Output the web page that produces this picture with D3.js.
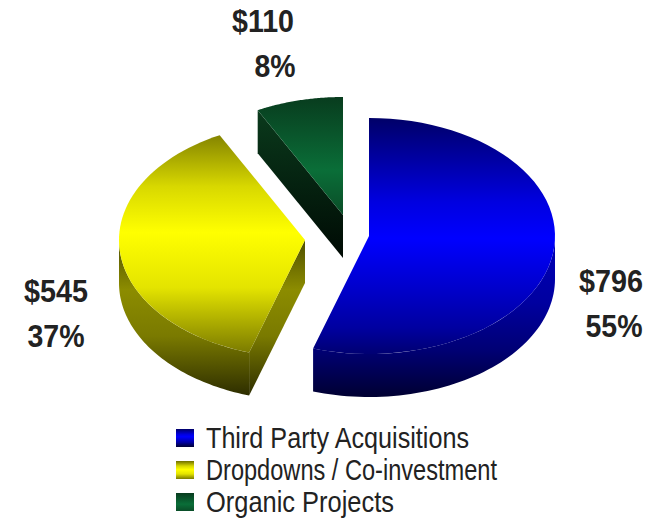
<!DOCTYPE html>
<html>
<head>
<meta charset="utf-8">
<script src="https://cdn.jsdelivr.net/npm/d3@7"></script>
<style>
  html, body { margin: 0; padding: 0; background: #fff; }
  svg { display: block; }
  text { font-family: "Liberation Sans", Arial, sans-serif; }
</style>
</head>
<body>
<svg id="chart" width="658" height="521"></svg>
<script>
// Funding sources, in $ millions
const categories = ["Third Party Acquisitions", "Dropdowns / Co-investment", "Organic Projects"];
const amounts = [796, 545, 110];
const amountLabels = ["$796", "$545", "$110"];
const shareLabels = ["55%", "37%", "8%"];

// Layout of the exploded 3D pie
const rx = 186, ry = 118, depth = 43;
const centres = [[369, 236], [305, 240], [343, 215]];
// x centre, amount baseline, share baseline, amount width, share width
const labelSpots = [
  [611, 292, 337, 64, 57],
  [56, 302, 347, 64, 57],
  [263, 32, 77, 62, 41]
];
const labelShareX = [614, 56, 275];
const legendX = 176, legendY = [429, 461, 493], legendW = [263, 291, 188];

const faceStops = [
  [[0, "#000068"], [0.30, "#0000e0"], [0.43, "#0000ff"], [0.62, "#0000c8"], [0.75, "#0000a0"], [0.83, "#000078"], [1, "#000034"]],
  [[0, "#6f6f00"], [0.28, "#d8d800"], [0.48, "#ffff00"], [0.72, "#e4e400"], [1, "#7c7c00"]],
  [[0, "#083c1e"], [0.62, "#0a6e38"], [1, "#0a4d28"]]
];
const wallStops = [
  [[0, "#0000b8"], [0.4, "#0000a0"], [0.7, "#000074"], [1, "#000030"]],
  [[0, "#505000"], [0.32, "#8c8c00"], [0.62, "#7a7a00"], [1, "#2e2e00"]],
  [[0, "#0a3a1c"], [1, "#000a04"]]
];
const faceBands = [[118, 398], [122, 352], [97, 215]];
const wallBands = [[238, 398], [240, 395], [110, 258]];

const svg = d3.select("#chart");
const defs = svg.append("defs");

function gradient(id, band, stops) {
  const g = defs.append("linearGradient").attr("id", id)
    .attr("gradientUnits", "userSpaceOnUse")
    .attr("x1", 0).attr("x2", 0).attr("y1", band[0]).attr("y2", band[1]);
  stops.forEach(s => g.append("stop").attr("offset", s[0]).attr("stop-color", s[1]));
}

// Slices run clockwise from twelve o'clock
const slices = d3.pie().sort(null).startAngle(0).endAngle(2 * Math.PI)(amounts);
const line = d3.line();

function projector(i) {
  const x = d3.scaleLinear().domain([-1, 1]).range([centres[i][0] - rx, centres[i][0] + rx]);
  const y = d3.scaleLinear().domain([-1, 1]).range([centres[i][1] - ry, centres[i][1] + ry]);
  return (a, r = 1, drop = 0) => [x(r * Math.sin(a)), y(-r * Math.cos(a)) + drop];
}

function arcPoints(project, a0, a1, drop = 0) {
  return d3.range(0, 61).map(k => project(a0 + (a1 - a0) * k / 60, 1, drop));
}

// Back to front so nearer walls cover what they should
[2, 0, 1].forEach(i => {
  const s = slices[i];
  const project = projector(i);
  gradient("face" + i, faceBands[i], faceStops[i]);
  gradient("wall" + i, wallBands[i], wallStops[i]);
  const g = svg.append("g");

  // Rim wall: only the part of the rim on the near half of the ellipse shows
  const a0 = Math.max(s.startAngle, Math.PI / 2);
  const a1 = Math.min(s.endAngle, 3 * Math.PI / 2);
  if (a1 > a0) {
    const top = arcPoints(project, a0, a1);
    const bottom = arcPoints(project, a1, a0, depth);
    g.append("path").attr("d", line(top.concat(bottom)) + "Z").attr("fill", `url(#wall${i})`);
  }

  // Cut wall below the radial edge that faces the viewer
  if (i > 0) {
    const cut = s.startAngle;
    const pts = [project(cut, 0), project(cut), project(cut, 1, depth), project(cut, 0, depth)];
    g.append("path").attr("d", line(pts) + "Z").attr("fill", `url(#wall${i})`);
  }

  // Top face
  const face = [project(0, 0)].concat(arcPoints(project, s.startAngle, s.endAngle));
  g.append("path").attr("d", line(face) + "Z").attr("fill", `url(#face${i})`);
});

// Value and share labels
labelSpots.forEach((p, i) => {
  [[amountLabels[i], p[0], p[1], p[3]], [shareLabels[i], labelShareX[i], p[2], p[4]]].forEach(([t, x, y, w]) => {
    svg.append("text").attr("x", x - w / 2).attr("y", y)
      .attr("font-size", 31).attr("font-weight", "bold").attr("fill", "#222")
      .attr("textLength", w).attr("lengthAdjust", "spacingAndGlyphs")
      .text(t);
  });
});

// Legend
categories.forEach((c, i) => {
  const lg = defs.append("linearGradient").attr("id", "legend" + i).attr("x1", 0).attr("x2", 0).attr("y1", 0).attr("y2", 1);
  faceStops[i].forEach(st => lg.append("stop").attr("offset", st[0]).attr("stop-color", st[1]));
  svg.append("rect").attr("x", legendX).attr("y", legendY[i]).attr("width", 18).attr("height", 18)
    .attr("fill", `url(#legend${i})`);
  svg.append("text").attr("x", 206).attr("y", legendY[i] + 19)
    .attr("font-size", 29).attr("fill", "#222")
    .attr("textLength", legendW[i]).attr("lengthAdjust", "spacingAndGlyphs")
    .text(c);
});
</script>
</body>
</html>
